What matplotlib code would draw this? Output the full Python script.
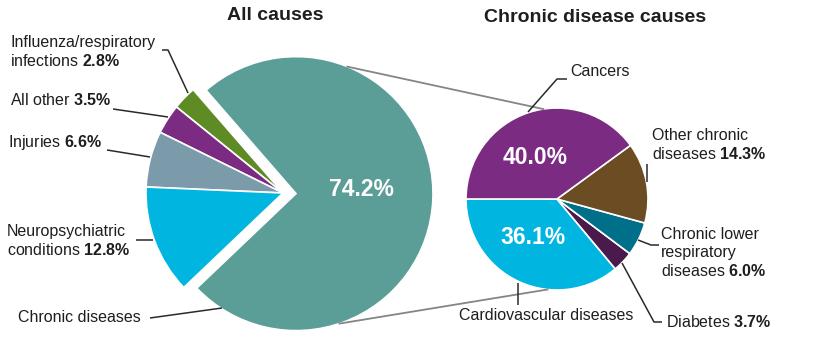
"""
Two linked pie charts: share of deaths by cause, with the chronic
disease slice broken out into its own pie.
"""

import numpy as np
import matplotlib
matplotlib.use("Agg")
import matplotlib.pyplot as plt

plt.rcParams["font.family"] = ["Liberation Sans", "DejaVu Sans"]
plt.rcParams["mathtext.fontset"] = "custom"
plt.rcParams["mathtext.rm"] = "Liberation Sans"
plt.rcParams["mathtext.bf"] = "Liberation Sans:bold"
plt.rcParams["mathtext.it"] = "Liberation Sans:italic"

# data -----------------------------------------------------------------
all_causes = ["Influenza/respiratory infections", "All other", "Injuries",
              "Neuropsychiatric conditions", "Chronic diseases"]
all_values = [2.8, 3.5, 6.6, 12.8, 74.2]
all_colors = ["#5f8b24", "#7b2b82", "#7b9bab", "#00b6e1", "#5b9e98"]

chronic_causes = ["Cardiovascular diseases", "Diabetes",
                  "Chronic lower respiratory diseases",
                  "Other chronic diseases", "Cancers"]
chronic_values = [36.1, 3.7, 6.0, 14.3, 40.0]
chronic_colors = ["#00b6e1", "#4b1a4d", "#006f89", "#6b4c23", "#7b2b82"]

W, H = 821, 345
TXT = "#1e1e1e"
FS = 11.5


def Y(y):
    # image rows run downward, axes y runs upward
    return H - y


def main():
    fig = plt.figure(figsize=(W / 100, H / 100), dpi=100)
    ax = fig.add_axes([0, 0, 1, 1])

    # left pie (explode is in data units here, i.e. pixels)
    lc = (283, Y(193))
    lr = 137
    expl = 13
    ax.pie(all_values, colors=all_colors, startangle=131, counterclock=True,
           explode=[0, 0, 0, 0, expl], radius=lr, center=lc,
           wedgeprops=dict(edgecolor="white", linewidth=1.2))

    # right pie
    rc = (557, Y(199))
    rr = 91
    ax.pie(chronic_values, colors=chronic_colors, startangle=180,
           counterclock=True, radius=rr, center=rc,
           wedgeprops=dict(edgecolor="white", linewidth=1.2))

    ax.set_xlim(0, W)
    ax.set_ylim(0, H)
    ax.axis("off")

    # connector lines from the exploded chronic slice to the second pie
    start = 131
    mid = np.deg2rad(start + 360 * sum(all_values[:4]) / 100
                     + 360 * all_values[4] / 200)
    tc = (lc[0] + expl * np.cos(mid), lc[1] + expl * np.sin(mid))
    for a_left, a_right in [(68, 98.7), (-71.5, 264)]:
        p0 = (tc[0] + lr * np.cos(np.deg2rad(a_left)),
              tc[1] + lr * np.sin(np.deg2rad(a_left)))
        p1 = (rc[0] + rr * np.cos(np.deg2rad(a_right)),
              rc[1] + rr * np.sin(np.deg2rad(a_right)))
        ax.plot([p0[0], p1[0]], [p0[1], p1[1]], color="#858585", lw=1.3,
                zorder=3)

    def pct(v):
        return f"$\\mathbf{{{v:.1f}\\%}}$"

    # titles
    ax.text(275, Y(16), "All causes", ha="center", va="center",
            fontsize=14, fontweight="bold", color=TXT)
    ax.text(595, Y(18), "Chronic disease causes", ha="center", va="center",
            fontsize=14, fontweight="bold", color=TXT)

    # values inside the pies
    ax.text(361, Y(190), f"{all_values[4]:.1f}%", ha="center", va="center",
            fontsize=16.5, fontweight="bold", color="white")
    ax.text(535, Y(157), f"{chronic_values[4]:.1f}%", ha="center",
            va="center", fontsize=16.5, fontweight="bold", color="white")
    ax.text(533, Y(237), f"{chronic_values[0]:.1f}%", ha="center",
            va="center", fontsize=16.5, fontweight="bold", color="white")

    def label(x, y, s, ha="left"):
        ax.text(x, Y(y), s, ha=ha, va="center", fontsize=FS, color=TXT,
                linespacing=1.25)

    def leader(pts):
        xs = [p[0] for p in pts]
        ys = [Y(p[1]) for p in pts]
        ax.plot(xs, ys, color="#2a2a2a", lw=1.1, solid_capstyle="butt",
                zorder=4)

    # left labels
    label(10, 52, "Influenza/respiratory\ninfections " + pct(all_values[0]))
    leader([(162, 50), (168, 50), (188, 93)])
    label(10, 100, "All other " + pct(all_values[1]))
    leader([(113, 109), (168, 117)])
    label(8, 142, "Injuries " + pct(all_values[2]))
    leader([(107, 150), (150, 157)])
    label(7, 241, "Neuropsychiatric\nconditions " + pct(all_values[3]))
    leader([(136, 240), (153, 240)])
    label(18, 318, "Chronic diseases")
    leader([(150, 318), (222, 308)])

    # right labels
    label(570, 71, "Cancers")
    leader([(567, 79), (557, 79), (528, 112)])
    label(652, 145, "Other chronic\ndiseases " + pct(chronic_values[3]))
    leader([(647, 164), (647, 182)])
    label(661, 253, "Chronic lower\nrespiratory\ndiseases "
          + pct(chronic_values[2]))
    leader([(638, 240), (651, 245), (659, 245)])
    label(666, 322, "Diabetes " + pct(chronic_values[1]))
    leader([(622, 263), (654, 322), (662, 322)])
    label(546, 316, "Cardiovascular diseases", ha="center")
    leader([(518, 283), (518, 305)])

    fig.savefig("out.png", dpi=100)
    plt.close(fig)


if __name__ == "__main__":
    main()
